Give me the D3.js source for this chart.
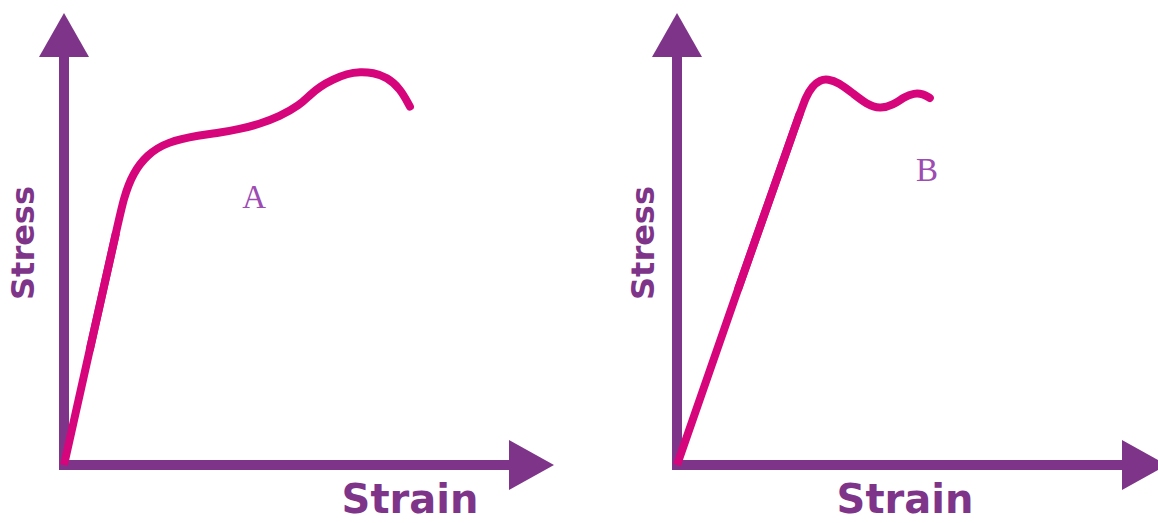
<!DOCTYPE html>
<html>
<head>
<meta charset="utf-8">
<script src="https://cdn.jsdelivr.net/npm/d3@7"></script>
<style>
  body { margin: 0; background: #fff; }
  svg { display: block; }
</style>
</head>
<body>
<svg id="chart" width="1158" height="523"></svg>
<script>
// curve A: ductile material (strain %, stress %)
var strainA = [0, 5.3, 10.6, 12.2, 14.1, 16.9, 21.0, 27.8, 31.8, 35.8, 39.8, 44.0, 48.1, 50.2, 52.2, 54.9, 57.8, 60.4, 63.1, 65.9, 68.6, 70.6];
var stressA = [0, 25.7, 51.3, 59.3, 64.6, 68.6, 71.5, 73.0, 73.5, 74.3, 75.4, 77.1, 79.6, 81.9, 83.7, 85.3, 86.6, 87.0, 86.8, 85.8, 83.3, 79.3];

// curve B: brittle-ish material
var strainB = [0, 12.5, 25.1, 26.3, 27.6, 29.2, 30.8, 33.0, 35.8, 38.7, 41.4, 44.1, 46.3, 48.4, 50.2, 51.6];
var stressB = [0, 39.0, 77.9, 81.4, 83.8, 85.2, 85.4, 84.6, 82.3, 79.8, 78.8, 79.6, 81.4, 82.3, 82.1, 81.2];

var labels = ["A", "B"];
var axisX = "Strain", axisY = "Stress";

var purple = "#7e3589", pink = "#d6057b";
var svg = d3.select("#chart");

function panel(ox, strain, stress, label, lblPos, strainX, stressX) {
	var x = d3.scaleLinear().domain([0, 100]).range([ox, ox + 490]);
	var y = d3.scaleLinear().domain([0, 100]).range([465, 13]);
	var g = svg.append("g");

	// axes shafts
	g.append("line").attr("x1", x(0)).attr("y1", y(0) + 5).attr("x2", x(0)).attr("y2", y(0) - 410)
		.attr("stroke", purple).attr("stroke-width", 10);
	g.append("line").attr("x1", x(0) - 5).attr("y1", y(0)).attr("x2", x(100) - 44).attr("y2", y(0))
		.attr("stroke", purple).attr("stroke-width", 10);

	// arrow heads
	g.append("path")
		.attr("d", "M" + x(0) + "," + y(100) + "L" + (x(0) + 25) + "," + (y(100) + 44) + "L" + (x(0) - 25) + "," + (y(100) + 44) + "Z")
		.attr("fill", purple);
	g.append("path")
		.attr("d", "M" + x(100) + "," + y(0) + "L" + (x(100) - 45) + "," + (y(0) - 25) + "L" + (x(100) - 45) + "," + (y(0) + 25) + "Z")
		.attr("fill", purple);

	var pts = strain.map(function(d, i) { return [d, stress[i]]; });
	var line = d3.line()
		.x(function(d) { return x(d[0]); })
		.y(function(d) { return y(d[1]); })
		.curve(d3.curveBasis);
	// keep the elastic part straight: linear up to the yield point, smooth after
	var lin = d3.line().x(function(d) { return x(d[0]); }).y(function(d) { return y(d[1]); });
	g.append("path").attr("d", lin(pts.slice(0, 3)))
		.attr("fill", "none").attr("stroke", pink).attr("stroke-width", 8);
	g.append("path").attr("d", line(pts.slice(1)))
		.attr("fill", "none").attr("stroke", pink).attr("stroke-width", 8).attr("stroke-linecap", "round");

	g.append("text").attr("x", x(lblPos[0])).attr("y", y(lblPos[1]))
		.attr("text-anchor", "middle").attr("dominant-baseline", "central")
		.attr("font-family", "'Liberation Serif', serif").attr("font-size", 33)
		.attr("fill", "#9c4cb2").text(label);

	g.append("text").attr("x", strainX).attr("y", 513)
		.attr("text-anchor", "middle")
		.attr("font-family", "'DejaVu Sans', sans-serif").attr("font-weight", "bold").attr("font-size", 40)
		.attr("fill", purple).text(axisX);

	g.append("text").attr("transform", "translate(" + stressX + ",243) rotate(-90)")
		.attr("text-anchor", "middle")
		.attr("font-family", "'DejaVu Sans', sans-serif").attr("font-weight", "bold").attr("font-size", 32)
		.attr("fill", purple).text(axisY);
}

panel(64, strainA, stressA, labels[0], [38.8, 59.3], 410, 34);
panel(677, strainB, stressB, labels[1], [51.0, 65.3], 905, 654);
</script>
</body>
</html>
